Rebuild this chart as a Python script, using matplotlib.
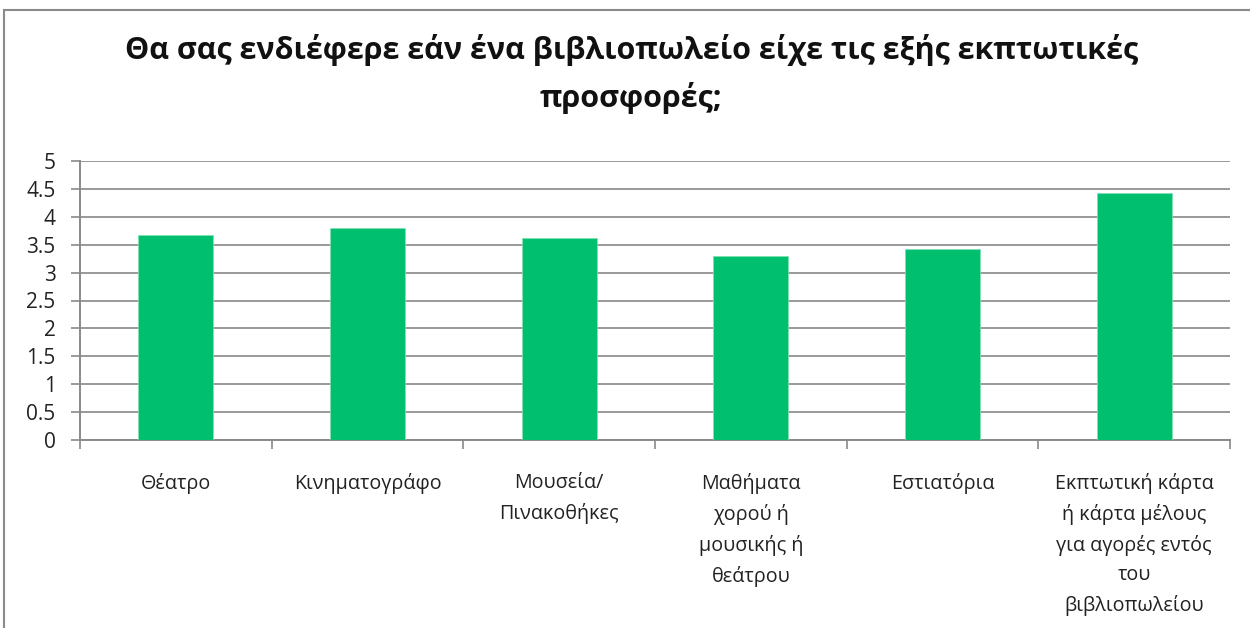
"""Bar chart of interest in bookstore discount offers"""
import numpy as np
import matplotlib.pyplot as plt
from matplotlib.patches import Rectangle

plt.rcParams['font.family'] = ['Open Sans', 'DejaVu Sans']

title = "Θα σας ενδιέφερε εάν ένα βιβλιοπωλείο είχε τις εξής εκπτωτικές\nπροσφορές;"
categories = ["Θέατρο", "Κινηματογράφο", "Μουσεία/\nΠινακοθήκες",
              "Μαθήματα\nχορού ή\nμουσικής ή\nθεάτρου", "Εστιατόρια",
              "Εκπτωτική κάρτα\nή κάρτα μέλους\nγια αγορές εντός\nτου\nβιβλιοπωλείου"]
values = [3.68, 3.80, 3.62, 3.29, 3.43, 4.43]
y_ticks = [0, 0.5, 1, 1.5, 2, 2.5, 3, 3.5, 4, 4.5, 5]
y_labels = ["0", "0.5", "1", "1.5", "2", "2.5", "3", "3.5", "4", "4.5", "5"]

W, H = 1250, 628
fig = plt.figure(figsize=(W / 100, H / 100), dpi=100)
fig.patch.set_facecolor("white")

# outer chart frame (bottom/right cut off like the screenshot)
fig.add_artist(Rectangle((4 / W, -0.1), 1.2, 1 - 10 / H + 0.1,
                         transform=fig.transFigure, fill=False,
                         edgecolor="#8a8a8a", linewidth=1.5))

ax = fig.add_axes([80 / W, 1 - 440 / H, 1150 / W, 279 / H])
x = np.arange(len(categories))
ax.bar(x, values, width=0.39, color="#00BF6F", edgecolor="#7fe0b5",
       linewidth=0.6, zorder=3)

ax.set_xlim(-0.5, len(categories) - 0.5)
ax.set_ylim(0, 5)
ax.set_yticks(y_ticks)
ax.set_yticklabels(y_labels, fontsize=15, color="#222222")
ax.yaxis.grid(True, color="#999999", linewidth=1.4, zorder=0)

# category boundary ticks, labels centred under the bars
ax.set_xticks(np.arange(len(categories) + 1) - 0.5)
ax.set_xticklabels([])
ax.set_xticks(x, minor=True)
ax.set_xticklabels(categories, minor=True, fontsize=14.2, color="#222222",
                   linespacing=1.62, va="top")
ax.tick_params(axis="x", which="minor", length=0, pad=24)
ax.tick_params(axis="x", which="major", length=6.5, color="#8a8a8a", width=1.2)
ax.tick_params(axis="y", length=6.5, color="#8a8a8a", width=1.2, pad=11)

for side in ["top", "right"]:
    ax.spines[side].set_visible(False)
for side in ["left", "bottom"]:
    ax.spines[side].set_color("#8a8a8a")
    ax.spines[side].set_linewidth(1.4)

fig.text(0.505, 1 - 74 / H, title, ha="center", va="center", fontsize=22,
         fontweight="bold", linespacing=1.65, color="#111111")

fig.savefig("out.png", dpi=100)
